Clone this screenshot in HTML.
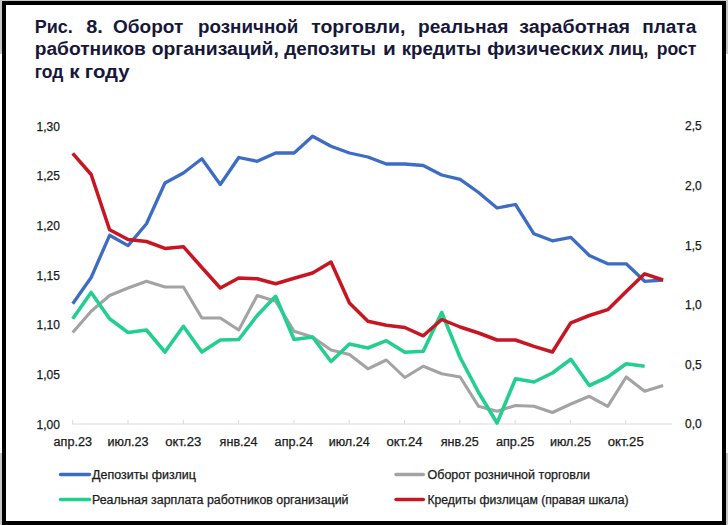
<!DOCTYPE html>
<html><head><meta charset="utf-8"><style>
html,body{margin:0;padding:0;}
body{width:728px;height:525px;overflow:hidden;background:#fff;position:relative;font-family:"Liberation Sans",sans-serif;}
.g{position:absolute;background:#c8c8c8;}
.frame{position:absolute;left:2px;top:1px;width:716px;height:516px;border:4px solid #000;}
.t{position:absolute;left:34px;width:662px;font-weight:bold;font-size:17px;color:#17173a;line-height:22px;white-space:nowrap;text-align:justify;text-align-last:justify;}
svg{position:absolute;left:0;top:0;}
svg .ttl text{font-size:18px;font-weight:bold;fill:#17173a;stroke:none;}
svg text{font-family:"Liberation Sans",sans-serif;font-size:12px;fill:#1a1a1a;stroke:#1a1a1a;stroke-width:0.25px;}
</style></head><body>
<div class="g" style="left:0;top:0;width:728px;height:2px"></div>
<div class="g" style="left:0;top:0;width:3px;height:54px"></div>
<div class="g" style="left:725px;top:0;width:3px;height:54px"></div>
<div class="g" style="left:0;top:453px;width:3px;height:72px"></div>
<div class="g" style="left:725px;top:453px;width:3px;height:72px"></div>
<div class="frame"></div>
<svg width="728" height="525" viewBox="0 0 728 525">
<g stroke="#d9d9d9" stroke-width="1"><line x1="72.2" y1="424" x2="672.3" y2="424"/><line x1="72.7" y1="420" x2="72.7" y2="424" /><line x1="128.0" y1="420" x2="128.0" y2="424" /><line x1="183.3" y1="420" x2="183.3" y2="424" /><line x1="238.6" y1="420" x2="238.6" y2="424" /><line x1="293.9" y1="420" x2="293.9" y2="424" /><line x1="349.2" y1="420" x2="349.2" y2="424" /><line x1="404.5" y1="420" x2="404.5" y2="424" /><line x1="459.8" y1="420" x2="459.8" y2="424" /><line x1="515.1" y1="420" x2="515.1" y2="424" /><line x1="570.4" y1="420" x2="570.4" y2="424" /><line x1="625.7" y1="420" x2="625.7" y2="424" /></g>
<polyline points="72.7,332.5 91.15,311.3 109.6,295.5 128.05,288 146.5,281.3 164.95,287 183.4,287 201.85,318 220.3,318 238.75,330 257.2,295.5 275.65,301.3 294.1,331.3 312.55,337 331.0,350 349.45,354.5 367.9,368.8 386.35,360 404.8,377.5 423.25,366.3 441.7,373.8 460.15,377 478.6,406.3 497.05,411.3 515.5,405.5 533.95,406.3 552.4,412.5 570.85,404 589.3,396.3 607.75,406.3 626.2,377 644.65,391.3 663.1,385.5" fill="none" stroke="#a3a3a3" stroke-width="3.1" stroke-linejoin="round" stroke-linecap="butt"/>
<polyline points="72.7,303.8 91.15,277.5 109.6,235.3 128.05,245.6 146.5,223.8 164.95,183 183.4,173 201.85,158.8 220.3,184.5 238.75,157.5 257.2,161.3 275.65,153 294.1,153 312.55,136.3 331.0,146.3 349.45,153 367.9,157 386.35,164 404.8,164 423.25,165.5 441.7,175 460.15,179.3 478.6,192.5 497.05,208 515.5,204.5 533.95,233.8 552.4,240.8 570.85,237.3 589.3,255.5 607.75,263.8 626.2,263.8 644.65,281.3 663.1,280" fill="none" stroke="#3c6cc4" stroke-width="3.3" stroke-linejoin="round" stroke-linecap="butt"/>
<polyline points="72.7,318.8 91.15,292.5 109.6,318.8 128.05,332.5 146.5,330 164.95,352 183.4,326.3 201.85,352 220.3,340 238.75,339.5 257.2,315.5 275.65,296.3 294.1,339.5 312.55,337 331.0,361.5 349.45,344 367.9,348 386.35,340.7 404.8,352.2 423.25,351.3 441.7,312.5 460.15,357.5 478.6,392.5 497.05,423 515.5,378.8 533.95,382 552.4,373 570.85,359.3 589.3,385.5 607.75,377 626.2,363.8 644.65,366.3" fill="none" stroke="#22cf8f" stroke-width="3.6" stroke-linejoin="round" stroke-linecap="butt"/>
<polyline points="72.7,153.3 91.15,174.5 109.6,229.7 128.05,239.5 146.5,241.5 164.95,248.4 183.4,246.7 201.85,267.5 220.3,288 238.75,278 257.2,278.8 275.65,283.8 294.1,278.3 312.55,273 331.0,262 349.45,303 367.9,321.3 386.35,325.2 404.8,327.5 423.25,335.8 441.7,319.5 460.15,327 478.6,333 497.05,340 515.5,340 533.95,346.3 552.4,352 570.85,322.8 589.3,315.5 607.75,309.7 626.2,291.5 644.65,273.8 663.1,280" fill="none" stroke="#c71522" stroke-width="3.5" stroke-linejoin="round" stroke-linecap="butt"/>
<g class="ttl"><text x="34.7" y="32.6" textLength="38.1" lengthAdjust="spacingAndGlyphs">Рис.</text><text x="86.2" y="32.6" textLength="16.6" lengthAdjust="spacingAndGlyphs">8.</text><text x="113.0" y="32.6" textLength="70.3" lengthAdjust="spacingAndGlyphs">Оборот</text><text x="198.0" y="32.6" textLength="100.3" lengthAdjust="spacingAndGlyphs">розничной</text><text x="311.2" y="32.6" textLength="94.1" lengthAdjust="spacingAndGlyphs">торговли,</text><text x="418.0" y="32.6" textLength="90.3" lengthAdjust="spacingAndGlyphs">реальная</text><text x="519.2" y="32.6" textLength="110.9" lengthAdjust="spacingAndGlyphs">заработная</text><text x="642.2" y="32.6" textLength="54.1" lengthAdjust="spacingAndGlyphs">плата</text><text x="34.7" y="55.1" textLength="111.1" lengthAdjust="spacingAndGlyphs">работников</text><text x="151.7" y="55.1" textLength="127.1" lengthAdjust="spacingAndGlyphs">организаций,</text><text x="284.2" y="55.1" textLength="91.6" lengthAdjust="spacingAndGlyphs">депозиты</text><text x="383.0" y="55.1" textLength="12.8" lengthAdjust="spacingAndGlyphs">и</text><text x="401.7" y="55.1" textLength="79.6" lengthAdjust="spacingAndGlyphs">кредиты</text><text x="487.2" y="55.1" textLength="116.6" lengthAdjust="spacingAndGlyphs">физических</text><text x="608.7" y="55.1" textLength="39.6" lengthAdjust="spacingAndGlyphs">лиц,</text><text x="656.7" y="55.1" textLength="39.6" lengthAdjust="spacingAndGlyphs">рост</text><text x="34.7" y="77.8" textLength="28.6" lengthAdjust="spacingAndGlyphs">год</text><text x="69.2" y="77.8" textLength="10.4" lengthAdjust="spacingAndGlyphs">к</text><text x="84.7" y="77.8" textLength="44.9" lengthAdjust="spacingAndGlyphs">году</text></g>
<g><text x="53.5" y="446" textLength="38.5" lengthAdjust="spacingAndGlyphs">апр.23</text><text x="107.5" y="446" textLength="41" lengthAdjust="spacingAndGlyphs">июл.23</text><text x="165.3" y="446" textLength="36" lengthAdjust="spacingAndGlyphs">окт.23</text><text x="219.6" y="446" textLength="38" lengthAdjust="spacingAndGlyphs">янв.24</text><text x="274.6" y="446" textLength="38.5" lengthAdjust="spacingAndGlyphs">апр.24</text><text x="328.7" y="446" textLength="41" lengthAdjust="spacingAndGlyphs">июл.24</text><text x="386.5" y="446" textLength="36" lengthAdjust="spacingAndGlyphs">окт.24</text><text x="440.8" y="446" textLength="38" lengthAdjust="spacingAndGlyphs">янв.25</text><text x="495.9" y="446" textLength="38.5" lengthAdjust="spacingAndGlyphs">апр.25</text><text x="549.9" y="446" textLength="41" lengthAdjust="spacingAndGlyphs">июл.25</text><text x="607.7" y="446" textLength="36" lengthAdjust="spacingAndGlyphs">окт.25</text><text x="36.5" y="130.5">1,30</text><text x="36.5" y="180.2">1,25</text><text x="36.5" y="229.9">1,20</text><text x="36.5" y="279.7">1,15</text><text x="36.5" y="329.4">1,10</text><text x="36.5" y="379.1">1,05</text><text x="36.5" y="428.8">1,00</text><text x="685" y="130.3">2,5</text><text x="685" y="189.9">2,0</text><text x="685" y="249.5">1,5</text><text x="685" y="309.1">1,0</text><text x="685" y="368.7">0,5</text><text x="685" y="428.3">0,0</text></g>
<g stroke-width="3.5" stroke-linecap="round">
<line x1="60.5" y1="474.5" x2="89.5" y2="474.5" stroke="#3c6cc4"/>
<line x1="60.5" y1="499.5" x2="89.5" y2="499.5" stroke="#22cf8f"/>
<line x1="396" y1="474.5" x2="423.3" y2="474.5" stroke="#a3a3a3"/>
<line x1="396" y1="499.5" x2="423.3" y2="499.5" stroke="#c71522"/>
</g>
<g>
<text x="92" y="479" textLength="104" lengthAdjust="spacingAndGlyphs">Депозиты физлиц</text>
<text x="92" y="503.7" textLength="256.5" lengthAdjust="spacingAndGlyphs">Реальная зарплата работников организаций</text>
<text x="427.5" y="479" textLength="162.5" lengthAdjust="spacingAndGlyphs">Оборот розничной торговли</text>
<text x="427.5" y="503.7" textLength="201" lengthAdjust="spacingAndGlyphs">Кредиты физлицам (правая шкала)</text>
</g>
</svg>
</body></html>
